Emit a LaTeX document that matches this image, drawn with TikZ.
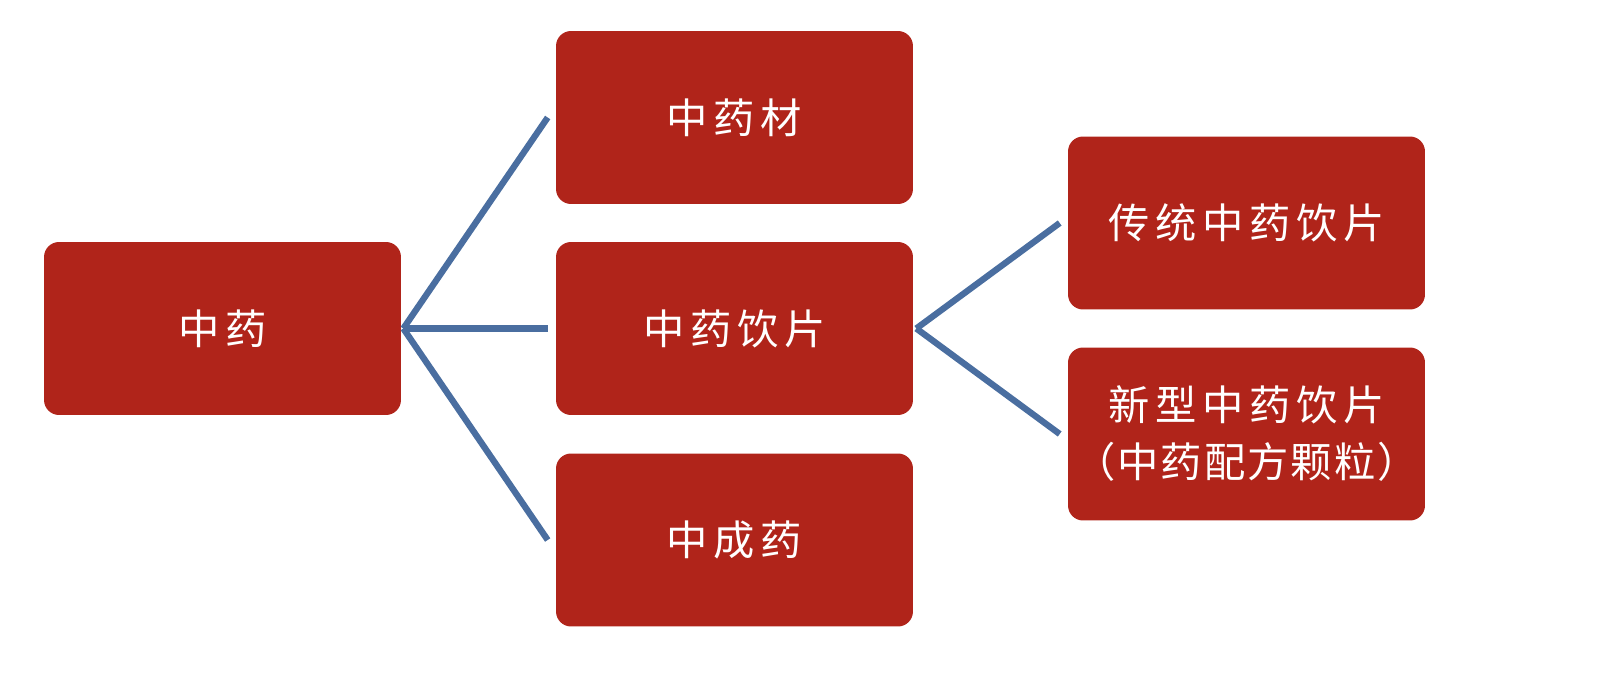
\documentclass[tikz,border=0pt]{standalone}
\usepackage{fontspec}
\setmainfont{Noto Sans CJK SC}[LetterSpace=14]
\usetikzlibrary{positioning}
\definecolor{boxred}{RGB}{176,36,26}
\definecolor{lineblue}{RGB}{74,110,160}

\begin{document}
\begin{tikzpicture}[x=0.02cm, y=-0.02cm,
    herb/.style={fill=boxred, rounded corners=0.3cm, minimum width=7.14cm, minimum height=3.46cm,
        inner sep=0pt, text=white, align=center, font=\fontsize{23.5}{32.5}\selectfont},
    link/.style={draw=lineblue, line width=3.6pt}]

    \useasboundingbox (0,0) rectangle (1610,682);

    \node[herb] (zy) at (222.5, 328.5) {中药};

    \node[herb] (cai) at (734.5, 117.5) {中药材};
    \node[herb] (yp) at (734.5, 328.5) {中药饮片};
    \node[herb] (cy) at (734.5, 540) {中成药};

    \node[herb] (ct) at (1246.5, 223) {传统中药饮片};
    \node[herb, text width=7.14cm] (xx) at (1246.5, 434)
        {新型中药饮片\\\addfontfeature{LetterSpace=5}（中药配方颗粒）};

    \draw[link] ([xshift=0.04cm]zy.east) -- ([xshift=-0.16cm]cai.west);
    \draw[link] ([xshift=0.04cm]zy.east) -- ([xshift=-0.16cm]yp.west);
    \draw[link] ([xshift=0.04cm]zy.east) -- ([xshift=-0.16cm]cy.west);

    \draw[link] ([xshift=0.06cm]yp.east) -- ([xshift=-0.16cm]ct.west);
    \draw[link] ([xshift=0.06cm]yp.east) -- ([xshift=-0.16cm]xx.west);

\end{tikzpicture}
\end{document}
